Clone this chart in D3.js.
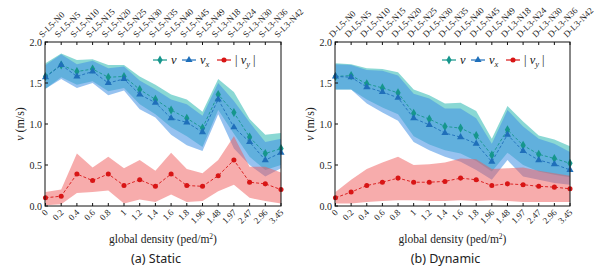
<!DOCTYPE html>
<html>
<head>
<meta charset="UTF-8">
<style>
  body { margin: 0; background: #fff; }
  svg { display: block; }
</style>
</head>
<body>
<svg></svg>
<script src="https://d3js.org/d3.v7.min.js"></script>
<script>
let width = 602, height = 269;
let serif = "'Liberation Serif', 'DejaVu Serif', 'Times New Roman', serif";

// shared categories
let densityLabels = ["0", "0.2", "0.4", "0.6", "0.8", "1", "1.2", "1.4", "1.6", "1.8", "1.96", "1.48", "1.97", "2.47", "2.96", "3.45"];
let scenarioTags = ["L5-N0", "L5-N5", "L5-N10", "L5-N15", "L5-N20", "L5-N25", "L5-N30", "L5-N35", "L5-N40", "L5-N45", "L5-N49", "L3-N18", "L3-N24", "L3-N30", "L3-N36", "L3-N42"];
let yTicks = [0, 0.5, 1.0, 1.5, 2.0];

// (a) Static
let staticV      = [1.58, 1.72, 1.64, 1.67, 1.57, 1.58, 1.42, 1.30, 1.17, 1.07, 0.95, 1.36, 1.14, 0.84, 0.64, 0.70];
let staticVUp    = [1.74, 1.86, 1.78, 1.79, 1.72, 1.72, 1.58, 1.48, 1.36, 1.30, 1.15, 1.55, 1.39, 1.06, 0.87, 0.89];
let staticVLo    = [1.43, 1.57, 1.48, 1.52, 1.40, 1.44, 1.24, 1.12, 0.96, 0.85, 0.72, 1.17, 0.88, 0.60, 0.44, 0.50];
let staticVx     = [1.57, 1.72, 1.58, 1.64, 1.50, 1.55, 1.36, 1.26, 1.07, 1.02, 0.90, 1.30, 0.96, 0.78, 0.56, 0.65];
let staticVxUp   = [1.72, 1.85, 1.73, 1.77, 1.68, 1.70, 1.53, 1.42, 1.30, 1.24, 1.10, 1.50, 1.28, 1.02, 0.78, 0.82];
let staticVxLo   = [1.43, 1.55, 1.44, 1.50, 1.35, 1.41, 1.18, 1.08, 0.87, 0.74, 0.67, 1.12, 0.70, 0.50, 0.36, 0.46];
let staticVy     = [0.10, 0.12, 0.39, 0.31, 0.39, 0.25, 0.32, 0.24, 0.39, 0.25, 0.24, 0.37, 0.56, 0.29, 0.27, 0.20];
let staticVyUp   = [0.17, 0.20, 0.64, 0.47, 0.60, 0.46, 0.56, 0.43, 0.65, 0.45, 0.40, 0.56, 0.85, 0.48, 0.48, 0.41];
let staticVyLo   = [0.01, 0.02, 0.16, 0.17, 0.19, 0.03, 0.08, 0.05, 0.14, 0.05, 0.06, 0.18, 0.26, 0.10, 0.06, 0.03];

// (b) Dynamic
let dynamicV     = [1.58, 1.59, 1.49, 1.44, 1.38, 1.13, 1.06, 0.97, 0.95, 0.86, 0.62, 0.93, 0.74, 0.63, 0.58, 0.52];
let dynamicVUp   = [1.74, 1.73, 1.68, 1.67, 1.63, 1.42, 1.35, 1.25, 1.26, 1.16, 0.82, 1.22, 1.03, 0.86, 0.81, 0.73];
let dynamicVLo   = [1.42, 1.42, 1.30, 1.20, 1.12, 0.85, 0.75, 0.68, 0.64, 0.55, 0.42, 0.65, 0.50, 0.42, 0.38, 0.35];
let dynamicVx    = [1.58, 1.57, 1.45, 1.39, 1.32, 1.07, 0.99, 0.89, 0.84, 0.76, 0.54, 0.87, 0.67, 0.56, 0.51, 0.44];
let dynamicVxUp  = [1.73, 1.72, 1.66, 1.65, 1.59, 1.37, 1.31, 1.19, 1.19, 1.07, 0.76, 1.17, 0.97, 0.82, 0.76, 0.66];
let dynamicVxLo  = [1.42, 1.42, 1.25, 1.14, 1.04, 0.78, 0.68, 0.60, 0.54, 0.44, 0.32, 0.56, 0.36, 0.32, 0.28, 0.26];
let dynamicVy    = [0.10, 0.17, 0.25, 0.29, 0.34, 0.29, 0.29, 0.30, 0.34, 0.32, 0.25, 0.27, 0.26, 0.24, 0.23, 0.21];
let dynamicVyUp  = [0.17, 0.32, 0.45, 0.53, 0.60, 0.50, 0.51, 0.53, 0.58, 0.57, 0.45, 0.46, 0.47, 0.43, 0.40, 0.37];
let dynamicVyLo  = [0.03, 0.03, 0.05, 0.06, 0.07, 0.07, 0.06, 0.06, 0.07, 0.06, 0.07, 0.06, 0.05, 0.05, 0.05, 0.05];

let colV = "#16968c", colVx = "#1f6fba", colVy = "#d81515";
let fillV = "#2ab8b0", fillVx = "#3f8fe3", fillVy = "#f05a5a";

let svg = d3.select("svg").attr("width", width).attr("height", height);

let y = d3.scaleLinear().domain([0, 2]).range([206, 42]);

function drawPanel(x0, x1, prefix, title, d) {
    let idx = d3.range(densityLabels.length);
    let x = d3.scalePoint().domain(idx).range([x0 + 0.5, x1]);
    let g = svg.append("g").attr("font-family", serif).attr("fill", "#222");

    let area = (up, lo) => d3.area().x(i => x(i)).y0(i => y(lo[i])).y1(i => y(up[i]))(idx);
    g.append("path").attr("d", area(d.vUp, d.vLo)).attr("fill", fillV).attr("opacity", 0.55);
    g.append("path").attr("d", area(d.vxUp, d.vxLo)).attr("fill", fillVx).attr("opacity", 0.55);
    g.append("path").attr("d", area(d.vyUp, d.vyLo)).attr("fill", fillVy).attr("opacity", 0.5);

    let line = vals => d3.line().x(i => x(i)).y(i => y(vals[i]))(idx);
    let series = [
        { vals: d.v, col: colV, sym: d3.symbolDiamond, size: 24 },
        { vals: d.vx, col: colVx, sym: d3.symbolTriangle, size: 22 },
        { vals: d.vy, col: colVy, sym: d3.symbolCircle, size: 20 }
    ];
    series.forEach(s => {
        g.append("path").attr("d", line(s.vals)).attr("fill", "none")
            .attr("stroke", s.col).attr("stroke-width", 0.9).attr("stroke-dasharray", "3,2");
        g.selectAll(null).data(idx).enter().append("path")
            .attr("d", d3.symbol().type(s.sym).size(s.size))
            .attr("transform", i => "translate(" + x(i) + "," + y(s.vals[i]) + ")")
            .attr("fill", s.col);
    });

    // frame
    g.append("rect").attr("x", x0).attr("y", 42).attr("width", x1 - x0).attr("height", 164)
        .attr("fill", "none").attr("stroke", "#111").attr("stroke-width", 1);

    // ticks (inward)
    idx.forEach(i => {
        g.append("line").attr("x1", x(i)).attr("x2", x(i)).attr("y1", 206).attr("y2", 203).attr("stroke", "#111");
        g.append("line").attr("x1", x(i)).attr("x2", x(i)).attr("y1", 42).attr("y2", 45).attr("stroke", "#111");
    });
    yTicks.forEach(t => {
        g.append("line").attr("x1", x0).attr("x2", x0 + 3).attr("y1", y(t)).attr("y2", y(t)).attr("stroke", "#111");
        g.append("text").attr("x", x0 - 3).attr("y", y(t) + 3.5)
            .attr("text-anchor", "end").attr("font-size", 10).text(t.toFixed(1));
    });

    // bottom rotated labels
    g.selectAll(null).data(idx).enter().append("text")
        .attr("transform", i => "translate(" + (x(i) + 3) + ",213) rotate(-45)")
        .attr("text-anchor", "end").attr("font-size", 9).text(i => densityLabels[i]);

    // top rotated labels
    g.selectAll(null).data(idx).enter().append("text")
        .attr("transform", i => "translate(" + (x(i) - 3) + ",38) rotate(-45)")
        .attr("text-anchor", "start").attr("font-size", 9).text(i => prefix + "-" + scenarioTags[i]);

    // y title
    let yt = g.append("text").attr("font-size", 12)
        .attr("transform", "translate(" + (x0 - 21) + ",124) rotate(-90)").attr("text-anchor", "middle");
    yt.append("tspan").attr("font-style", "italic").text("v");
    yt.append("tspan").text(" (m/s)");

    // x title
    let cx = (x0 + x1) / 2;
    let xt = g.append("text").attr("font-size", 11.5)
        .attr("x", cx).attr("y", 243).attr("text-anchor", "middle");
    xt.append("tspan").text("global density (ped/m");
    xt.append("tspan").attr("font-size", 7.5).attr("dy", -4).text("2");
    xt.append("tspan").attr("dy", 4).text(")");

    g.append("text").attr("x", cx - 7).attr("y", 263).attr("text-anchor", "middle")
        .attr("font-family", "'Noto Sans', 'DejaVu Sans', sans-serif").attr("font-size", 12.5)
        .text(title);

    // legend
    let lx = x1 - 128, ly = 60;
    let items = [
        { col: colV, sym: d3.symbolDiamond, size: 24, off: 0, sub: null, bars: false },
        { col: colVx, sym: d3.symbolTriangle, size: 22, off: 29, sub: "x", bars: false },
        { col: colVy, sym: d3.symbolCircle, size: 20, off: 64, sub: "y", bars: true }
    ];
    items.forEach(it => {
        let gx = lx + it.off;
        g.append("line").attr("x1", gx).attr("x2", gx + 14).attr("y1", ly).attr("y2", ly)
            .attr("stroke", it.col).attr("stroke-width", 1.2);
        g.append("path").attr("d", d3.symbol().type(it.sym).size(it.size))
            .attr("transform", "translate(" + (gx + 7) + "," + ly + ")").attr("fill", it.col);
        let t = g.append("text").attr("x", gx + 18).attr("y", ly + 3.5).attr("font-size", 12.5);
        if (it.bars) t.append("tspan").text("| ");
        t.append("tspan").attr("font-style", "italic").text("v");
        if (it.sub) t.append("tspan").attr("font-style", "italic").attr("font-size", 8.5).attr("dy", 3).text(it.sub);
        if (it.bars) t.append("tspan").attr("dy", -3).text(" |");
    });
}

drawPanel(45, 281, "S", "(a) Static", {
    v: staticV, vUp: staticVUp, vLo: staticVLo,
    vx: staticVx, vxUp: staticVxUp, vxLo: staticVxLo,
    vy: staticVy, vyUp: staticVyUp, vyLo: staticVyLo
});
drawPanel(335, 570, "D", "(b) Dynamic", {
    v: dynamicV, vUp: dynamicVUp, vLo: dynamicVLo,
    vx: dynamicVx, vxUp: dynamicVxUp, vxLo: dynamicVxLo,
    vy: dynamicVy, vyUp: dynamicVyUp, vyLo: dynamicVyLo
});
</script>
</body>
</html>
